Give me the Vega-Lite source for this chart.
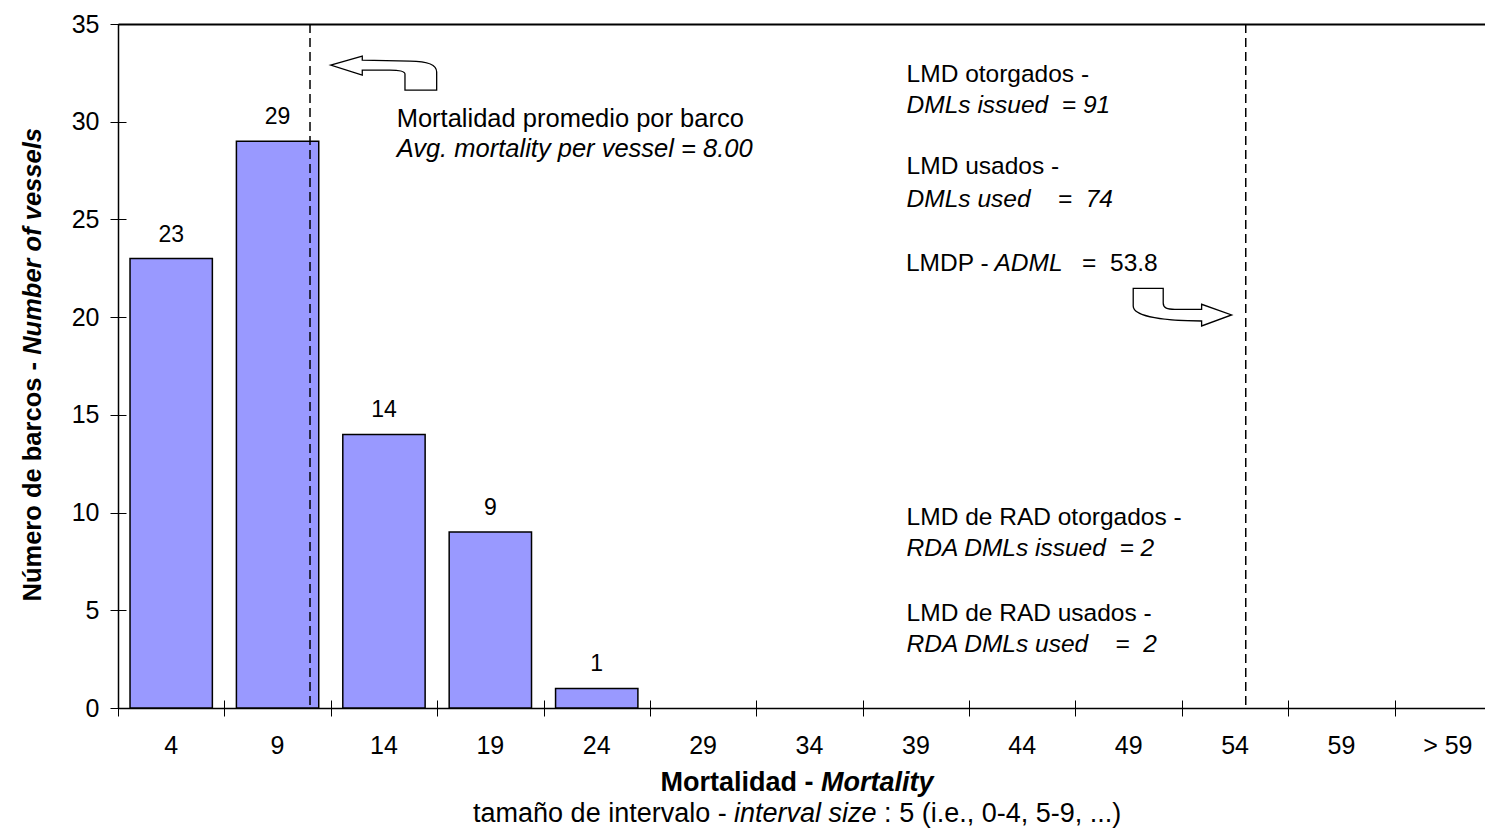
{
  "$schema": "https://vega.github.io/schema/vega-lite/v6.json",
  "width": 1367,
  "height": 684,
  "autosize": {"type": "none"},
  "padding": {"left": 118, "top": 24, "right": 0, "bottom": 125},
  "background": "white",
  "config": {
    "view": {"stroke": null},
    "font": "Liberation Sans",
    "axis": {"grid": false, "domainColor": "black", "tickColor": "black", "labelColor": "black", "labelFont": "Liberation Sans"},
    "text": {"color": "black", "font": "Liberation Sans"}
  },
  "datasets": {
    "bins": [
      {"bin": "4", "vessels": 23},
      {"bin": "9", "vessels": 29},
      {"bin": "14", "vessels": 14},
      {"bin": "19", "vessels": 9},
      {"bin": "24", "vessels": 1},
      {"bin": "29", "vessels": 0},
      {"bin": "34", "vessels": 0},
      {"bin": "39", "vessels": 0},
      {"bin": "44", "vessels": 0},
      {"bin": "49", "vessels": 0},
      {"bin": "54", "vessels": 0},
      {"bin": "59", "vessels": 0},
      {"bin": "> 59", "vessels": 0}
    ]
  },
  "resolve": {"scale": {"x": "independent"}, "axis": {"x": "independent", "y": "independent"}},
  "layer": [
    {
      "data": {"name": "bins"},
      "transform": [{"filter": "datum.vessels > 0"}],
      "mark": {"type": "bar", "fill": "#9999FF", "stroke": "black", "strokeWidth": 1.5},
      "encoding": {
        "x": {"field": "bin", "type": "nominal",
          "scale": {"domain": ["4","9","14","19","24","29","34","39","44","49","54","59","> 59"], "range": [0, 1383], "paddingInner": 0.226, "paddingOuter": 0.113},
          "axis": {"orient": "bottom", "title": null, "ticks": false, "domain": true, "domainWidth": 1.5, "labelAngle": 0, "labelFontSize": 25, "labelPadding": 25, "labelColor": "black"}},
        "y": {"field": "vessels", "type": "quantitative",
          "scale": {"domain": [0, 35], "nice": false, "zero": false},
          "axis": {"title": null, "orient": "left", "values": [0,5,10,15,20,25,30,35], "ticks": false, "domainWidth": 1.5, "labelFontSize": 25, "labelPadding": 19}}
      }
    },
    {
      "data": {"name": "bins"},
      "transform": [{"filter": "datum.vessels > 0"}],
      "mark": {"type": "text", "fontSize": 23, "dy": -17, "baseline": "alphabetic", "align": "center"},
      "encoding": {
        "x": {"field": "bin", "type": "nominal",
          "scale": {"domain": ["4","9","14","19","24","29","34","39","44","49","54","59","> 59"], "range": [0, 1383], "paddingInner": 0.226, "paddingOuter": 0.113},
          "axis": {"orient": "bottom", "title": null, "tickOffset": -53.19, "labels": false, "domain": false, "ticks": true, "tickSize": 16, "offset": -8, "tickWidth": 1}},
        "y": {"field": "vessels", "type": "quantitative", "scale": {"domain": [0, 35], "nice": false, "zero": false}, "axis": null},
        "text": {"field": "vessels", "type": "quantitative"}
      }
    },
    {
      "data": {"values": [{"line": "average mortality per vessel", "mortality": 8.0}, {"line": "ADML", "mortality": 53.8}]},
      "mark": {"type": "rule", "stroke": "black", "strokeWidth": 1.5, "strokeDash": [9, 5]},
      "encoding": {
        "x": {"field": "mortality", "type": "quantitative", "scale": {"domain": [-1.398, 65.51], "nice": false, "zero": false}, "axis": null}
      }
    },
    {
      "data": {"values": [{"note": "arrow to average"}]},
      "mark": {"type": "point", "shape": "M-1.066,-0.16L-0.434,-0.34L-0.434,-0.26L0.52,-0.24C0.9,-0.24,1.054,-0.16,1.054,-0.02L1.054,0.34L0.42,0.34L0.42,0.02C0.42,-0.03,0.3,-0.06,0.12,-0.06L-0.434,-0.06L-0.434,0.04Z", "size": 10000, "filled": true, "fill": "white", "stroke": "black", "strokeWidth": 1.3, "opacity": 1},
      "encoding": {
        "x": {"datum": 11.62, "type": "quantitative", "scale": {"domain": [-1.398, 65.51], "nice": false, "zero": false},
          "axis": {"orient": "top", "title": null, "labels": false, "ticks": false, "domain": true, "domainWidth": 2}},
        "y": {"datum": 32.49, "type": "quantitative", "scale": {"domain": [0, 35], "nice": false, "zero": false},
          "axis": {"orient": "left", "title": null, "values": [0,5,10,15,20,25,30,35], "labels": false, "domain": false, "ticks": true, "tickSize": 16, "offset": -8, "tickWidth": 1}}
      }
    },
    {
      "data": {"values": [{"note": "arrow to ADML"}]},
      "mark": {"type": "point", "shape": "M-0.984,-0.378L-0.384,-0.378L-0.384,-0.084C-0.384,0.02,-0.3,0.042,-0.15,0.042L0.384,0.042L0.384,-0.058L0.984,0.156L0.384,0.376L0.384,0.276C-0.3,0.27,-0.984,0.2,-0.984,-0.024Z", "size": 10000, "filled": true, "fill": "white", "stroke": "black", "strokeWidth": 1.3, "opacity": 1},
      "encoding": {
        "x": {"datum": 50.7, "type": "quantitative", "scale": {"domain": [-1.398, 65.51], "nice": false, "zero": false}, "axis": null},
        "y": {"datum": 20.51, "type": "quantitative", "scale": {"domain": [0, 35], "nice": false, "zero": false}, "axis": null}
      }
    },
    {
      "data": {"values": [{"label": "Mortalidad promedio por barco"}]},
      "mark": {"type": "text", "align": "left", "baseline": "alphabetic", "fontSize": 25.5},
      "encoding": {
        "x": {"datum": 12.24, "type": "quantitative", "scale": {"domain": [-1.398, 65.51], "nice": false, "zero": false}, "axis": null},
        "y": {"datum": 29.71, "type": "quantitative", "scale": {"domain": [0, 35], "nice": false, "zero": false}, "axis": null},
        "text": {"field": "label"}
      }
    },
    {
      "data": {"values": [{"label": "Avg. mortality per vessel = 8.00"}]},
      "mark": {"type": "text", "align": "left", "baseline": "alphabetic", "fontSize": 25.5, "fontStyle": "italic"},
      "encoding": {
        "x": {"datum": 12.24, "type": "quantitative", "scale": {"domain": [-1.398, 65.51], "nice": false, "zero": false}, "axis": null},
        "y": {"datum": 28.21, "type": "quantitative", "scale": {"domain": [0, 35], "nice": false, "zero": false}, "axis": null},
        "text": {"field": "label"}
      }
    },
    {
      "data": {"values": [{"label": "LMD otorgados -"}]},
      "mark": {"type": "text", "align": "left", "baseline": "alphabetic", "fontSize": 24.5},
      "encoding": {
        "x": {"datum": 37.2, "type": "quantitative", "scale": {"domain": [-1.398, 65.51], "nice": false, "zero": false}, "axis": null},
        "y": {"datum": 32.05, "type": "quantitative", "scale": {"domain": [0, 35], "nice": false, "zero": false}, "axis": null},
        "text": {"field": "label"}
      }
    },
    {
      "data": {"values": [{"label": "DMLs issued\u00a0 = 91"}]},
      "mark": {"type": "text", "align": "left", "baseline": "alphabetic", "fontSize": 24.5, "fontStyle": "italic"},
      "encoding": {
        "x": {"datum": 37.2, "type": "quantitative", "scale": {"domain": [-1.398, 65.51], "nice": false, "zero": false}, "axis": null},
        "y": {"datum": 30.43, "type": "quantitative", "scale": {"domain": [0, 35], "nice": false, "zero": false}, "axis": null},
        "text": {"field": "label"}
      }
    },
    {
      "data": {"values": [{"label": "LMD usados -"}]},
      "mark": {"type": "text", "align": "left", "baseline": "alphabetic", "fontSize": 24.5},
      "encoding": {
        "x": {"datum": 37.2, "type": "quantitative", "scale": {"domain": [-1.398, 65.51], "nice": false, "zero": false}, "axis": null},
        "y": {"datum": 27.32, "type": "quantitative", "scale": {"domain": [0, 35], "nice": false, "zero": false}, "axis": null},
        "text": {"field": "label"}
      }
    },
    {
      "data": {"values": [{"label": "DMLs used\u00a0\u00a0\u00a0 =\u00a0 74"}]},
      "mark": {"type": "text", "align": "left", "baseline": "alphabetic", "fontSize": 24.5, "fontStyle": "italic"},
      "encoding": {
        "x": {"datum": 37.2, "type": "quantitative", "scale": {"domain": [-1.398, 65.51], "nice": false, "zero": false}, "axis": null},
        "y": {"datum": 25.64, "type": "quantitative", "scale": {"domain": [0, 35], "nice": false, "zero": false}, "axis": null},
        "text": {"field": "label"}
      }
    },
    {
      "data": {"values": [{"label": "LMDP -"}]},
      "mark": {"type": "text", "align": "left", "baseline": "alphabetic", "fontSize": 24.5},
      "encoding": {
        "x": {"datum": 37.17, "type": "quantitative", "scale": {"domain": [-1.398, 65.51], "nice": false, "zero": false}, "axis": null},
        "y": {"datum": 22.38, "type": "quantitative", "scale": {"domain": [0, 35], "nice": false, "zero": false}, "axis": null},
        "text": {"field": "label"}
      }
    },
    {
      "data": {"values": [{"label": "ADML"}]},
      "mark": {"type": "text", "align": "left", "baseline": "alphabetic", "fontSize": 24.5, "fontStyle": "italic"},
      "encoding": {
        "x": {"datum": 41.5, "type": "quantitative", "scale": {"domain": [-1.398, 65.51], "nice": false, "zero": false}, "axis": null},
        "y": {"datum": 22.38, "type": "quantitative", "scale": {"domain": [0, 35], "nice": false, "zero": false}, "axis": null},
        "text": {"field": "label"}
      }
    },
    {
      "data": {"values": [{"label": "=\u00a0 53.8"}]},
      "mark": {"type": "text", "align": "left", "baseline": "alphabetic", "fontSize": 24.5},
      "encoding": {
        "x": {"datum": 45.79, "type": "quantitative", "scale": {"domain": [-1.398, 65.51], "nice": false, "zero": false}, "axis": null},
        "y": {"datum": 22.38, "type": "quantitative", "scale": {"domain": [0, 35], "nice": false, "zero": false}, "axis": null},
        "text": {"field": "label"}
      }
    },
    {
      "data": {"values": [{"label": "LMD de RAD otorgados -"}]},
      "mark": {"type": "text", "align": "left", "baseline": "alphabetic", "fontSize": 24.5},
      "encoding": {
        "x": {"datum": 37.2, "type": "quantitative", "scale": {"domain": [-1.398, 65.51], "nice": false, "zero": false}, "axis": null},
        "y": {"datum": 9.36, "type": "quantitative", "scale": {"domain": [0, 35], "nice": false, "zero": false}, "axis": null},
        "text": {"field": "label"}
      }
    },
    {
      "data": {"values": [{"label": "RDA DMLs issued\u00a0 = 2"}]},
      "mark": {"type": "text", "align": "left", "baseline": "alphabetic", "fontSize": 24.5, "fontStyle": "italic"},
      "encoding": {
        "x": {"datum": 37.2, "type": "quantitative", "scale": {"domain": [-1.398, 65.51], "nice": false, "zero": false}, "axis": null},
        "y": {"datum": 7.79, "type": "quantitative", "scale": {"domain": [0, 35], "nice": false, "zero": false}, "axis": null},
        "text": {"field": "label"}
      }
    },
    {
      "data": {"values": [{"label": "LMD de RAD usados -"}]},
      "mark": {"type": "text", "align": "left", "baseline": "alphabetic", "fontSize": 24.5},
      "encoding": {
        "x": {"datum": 37.2, "type": "quantitative", "scale": {"domain": [-1.398, 65.51], "nice": false, "zero": false}, "axis": null},
        "y": {"datum": 4.45, "type": "quantitative", "scale": {"domain": [0, 35], "nice": false, "zero": false}, "axis": null},
        "text": {"field": "label"}
      }
    },
    {
      "data": {"values": [{"label": "RDA DMLs used\u00a0\u00a0\u00a0 =\u00a0 2"}]},
      "mark": {"type": "text", "align": "left", "baseline": "alphabetic", "fontSize": 24.5, "fontStyle": "italic"},
      "encoding": {
        "x": {"datum": 37.2, "type": "quantitative", "scale": {"domain": [-1.398, 65.51], "nice": false, "zero": false}, "axis": null},
        "y": {"datum": 2.88, "type": "quantitative", "scale": {"domain": [0, 35], "nice": false, "zero": false}, "axis": null},
        "text": {"field": "label"}
      }
    },
    {
      "data": {"values": [{"label": "Mortalidad -"}]},
      "mark": {"type": "text", "align": "left", "baseline": "alphabetic", "fontSize": 27, "fontWeight": "bold"},
      "encoding": {
        "x": {"datum": 25.16, "type": "quantitative", "scale": {"domain": [-1.398, 65.51], "nice": false, "zero": false}, "axis": null},
        "y": {"datum": -4.25, "type": "quantitative", "scale": {"domain": [0, 35], "nice": false, "zero": false}, "axis": null},
        "text": {"field": "label"}
      }
    },
    {
      "data": {"values": [{"label": "Mortality"}]},
      "mark": {"type": "text", "align": "left", "baseline": "alphabetic", "fontSize": 27, "fontWeight": "bold", "fontStyle": "italic"},
      "encoding": {
        "x": {"datum": 33.01, "type": "quantitative", "scale": {"domain": [-1.398, 65.51], "nice": false, "zero": false}, "axis": null},
        "y": {"datum": -4.25, "type": "quantitative", "scale": {"domain": [0, 35], "nice": false, "zero": false}, "axis": null},
        "text": {"field": "label"}
      }
    },
    {
      "data": {"values": [{"label": "tamaño de intervalo -"}]},
      "mark": {"type": "text", "align": "left", "baseline": "alphabetic", "fontSize": 27},
      "encoding": {
        "x": {"datum": 15.98, "type": "quantitative", "scale": {"domain": [-1.398, 65.51], "nice": false, "zero": false}, "axis": null},
        "y": {"datum": -5.83, "type": "quantitative", "scale": {"domain": [0, 35], "nice": false, "zero": false}, "axis": null},
        "text": {"field": "label"}
      }
    },
    {
      "data": {"values": [{"label": "interval size"}]},
      "mark": {"type": "text", "align": "left", "baseline": "alphabetic", "fontSize": 27, "fontStyle": "italic"},
      "encoding": {
        "x": {"datum": 28.75, "type": "quantitative", "scale": {"domain": [-1.398, 65.51], "nice": false, "zero": false}, "axis": null},
        "y": {"datum": -5.83, "type": "quantitative", "scale": {"domain": [0, 35], "nice": false, "zero": false}, "axis": null},
        "text": {"field": "label"}
      }
    },
    {
      "data": {"values": [{"label": ": 5 (i.e., 0-4, 5-9, ...)"}]},
      "mark": {"type": "text", "align": "left", "baseline": "alphabetic", "fontSize": 27},
      "encoding": {
        "x": {"datum": 36.1, "type": "quantitative", "scale": {"domain": [-1.398, 65.51], "nice": false, "zero": false}, "axis": null},
        "y": {"datum": -5.83, "type": "quantitative", "scale": {"domain": [0, 35], "nice": false, "zero": false}, "axis": null},
        "text": {"field": "label"}
      }
    },
    {
      "data": {"values": [{"label": "Número de barcos -"}]},
      "mark": {"type": "text", "align": "left", "baseline": "alphabetic", "fontSize": 25.5, "fontWeight": "bold", "angle": 270},
      "encoding": {
        "x": {"datum": -5.17, "type": "quantitative", "scale": {"domain": [-1.398, 65.51], "nice": false, "zero": false}, "axis": null},
        "y": {"datum": 5.45, "type": "quantitative", "scale": {"domain": [0, 35], "nice": false, "zero": false}, "axis": null},
        "text": {"field": "label"}
      }
    },
    {
      "data": {"values": [{"label": "Number of vessels"}]},
      "mark": {"type": "text", "align": "left", "baseline": "alphabetic", "fontSize": 25.5, "fontWeight": "bold", "fontStyle": "italic", "angle": 270},
      "encoding": {
        "x": {"datum": -5.17, "type": "quantitative", "scale": {"domain": [-1.398, 65.51], "nice": false, "zero": false}, "axis": null},
        "y": {"datum": 18.07, "type": "quantitative", "scale": {"domain": [0, 35], "nice": false, "zero": false}, "axis": null},
        "text": {"field": "label"}
      }
    }
  ]
}
